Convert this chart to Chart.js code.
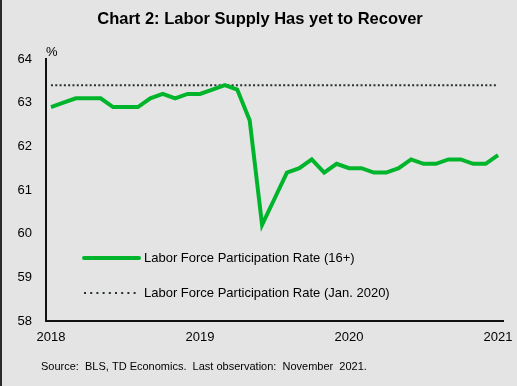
<!DOCTYPE html>
<html>
<head>
    <title>Chart 2: Labor Supply Has yet to Recover</title>
    <script src="https://cdn.jsdelivr.net/npm/chart.js@4.4.0/dist/chart.umd.min.js"></script>
    <style>
        html, body {
            margin: 0;
            padding: 0;
            background: #e4e4e4;
        }
        .frame {
            position: relative;
            width: 517px;
            height: 386px;
            box-sizing: border-box;
            border-left: 2px solid #2b2b2b;
            background: #e4e4e4;
        }
        canvas {
            position: absolute;
            left: -2px;
            top: 0;
        }
    </style>
</head>
<body>
    <div class="frame">
        <canvas id="lfpr" width="517" height="386"></canvas>
    </div>

    <script>
        // Monthly, Nov 2018 - Nov 2021
        const months = [
            'Nov 2018', 'Dec 2018',
            'Jan 2019', 'Feb 2019', 'Mar 2019', 'Apr 2019', 'May 2019', 'Jun 2019',
            'Jul 2019', 'Aug 2019', 'Sep 2019', 'Oct 2019', 'Nov 2019', 'Dec 2019',
            'Jan 2020', 'Feb 2020', 'Mar 2020', 'Apr 2020', 'May 2020', 'Jun 2020',
            'Jul 2020', 'Aug 2020', 'Sep 2020', 'Oct 2020', 'Nov 2020', 'Dec 2020',
            'Jan 2021', 'Feb 2021', 'Mar 2021', 'Apr 2021', 'May 2021', 'Jun 2021',
            'Jul 2021', 'Aug 2021', 'Sep 2021', 'Oct 2021', 'Nov 2021'
        ];
        const participation = [
            62.9, 63.0,
            63.1, 63.1, 63.1, 62.9, 62.9, 62.9, 63.1, 63.2, 63.1, 63.2, 63.2, 63.3,
            63.4, 63.3, 62.6, 60.2, 60.8, 61.4, 61.5, 61.7, 61.4, 61.6, 61.5, 61.5,
            61.4, 61.4, 61.5, 61.7, 61.6, 61.6, 61.7, 61.7, 61.6, 61.6, 61.8
        ];
        const jan2020Rate = 63.4;
        const yearTicks = [0, 12, 24, 36];
        const yearLabels = ['2018', '2019', '2020', '2021'];
        const seriesNames = [
            'Labor Force Participation Rate (16+)',
            'Labor Force Participation Rate (Jan. 2020)'
        ];

        const green = '#00b52c';
        const dark = '#26332a';
        const font = '"Liberation Sans", Arial, sans-serif';

        // legend + titles drawn on the canvas
        const decorations = {
            id: 'decorations',
            afterDraw(chart) {
                const ctx = chart.ctx;
                const area = chart.chartArea;
                ctx.save();
                ctx.fillStyle = '#000';
                ctx.textBaseline = 'middle';

                ctx.font = 'bold 16.5px ' + font;
                ctx.textAlign = 'center';
                ctx.fillText('Chart 2: Labor Supply Has yet to Recover', 260, 19);

                ctx.font = '13px ' + font;
                ctx.textAlign = 'left';
                ctx.fillText('%', area.left, area.top - 7);

                // legend
                const lx = area.left + 38;
                const y1 = 258, y2 = 293;
                ctx.strokeStyle = green;
                ctx.lineWidth = 4;
                ctx.lineCap = 'round';
                ctx.beginPath();
                ctx.moveTo(lx, y1);
                ctx.lineTo(lx + 55, y1);
                ctx.stroke();
                ctx.fillStyle = dark;
                for (let i = 0; i < 9; i++) {
                    ctx.fillRect(lx + i * 6.2, y2 - 1, 2, 2);
                }
                ctx.fillStyle = '#000';
                ctx.fillText(seriesNames[0], lx + 60, y1);
                ctx.fillText(seriesNames[1], lx + 60, y2);

                ctx.font = '11px ' + font;
                ctx.fillText('Source:  BLS, TD Economics.  Last observation:  November  2021.', 41, 367);
                ctx.restore();
            }
        };

        new Chart(document.getElementById('lfpr'), {
            type: 'line',
            data: {
                labels: months,
                datasets: [
                    {
                        label: seriesNames[0],
                        data: participation.map((v, i) => ({ x: i, y: v })),
                        borderColor: green,
                        borderWidth: 4,
                        pointRadius: 0,
                        tension: 0
                    },
                    {
                        label: seriesNames[1],
                        data: months.map((m, i) => ({ x: i, y: jan2020Rate })),
                        borderColor: dark,
                        borderWidth: 2,
                        borderDash: [2, 2.3],
                        pointRadius: 0
                    }
                ]
            },
            options: {
                responsive: false,
                animation: false,
                layout: {
                    padding: { left: 0, right: 0, top: 59, bottom: 0 }
                },
                scales: {
                    x: {
                        type: 'linear',
                        min: -0.4,
                        max: 36.4,
                        afterBuildTicks: (axis) => {
                            axis.ticks = yearTicks.map(v => ({ value: v }));
                        },
                        afterFit: (axis) => {
                            axis.height = 65;
                            axis.paddingLeft = 0;
                            axis.paddingRight = 14;
                        },
                        grid: { display: false, drawTicks: false },
                        border: { display: true, color: '#111', width: 2 },
                        ticks: {
                            autoSkip: false,
                            maxRotation: 0,
                            padding: 9,
                            color: '#000',
                            font: { family: font, size: 13 },
                            callback: (v) => yearLabels[yearTicks.indexOf(v)]
                        }
                    },
                    y: {
                        min: 58,
                        max: 64,
                        afterFit: (axis) => { axis.width = 46; },
                        grid: { display: false, drawTicks: false },
                        border: { display: true, color: '#111', width: 2 },
                        ticks: {
                            stepSize: 1,
                            padding: 14,
                            color: '#000',
                            font: { family: font, size: 13 }
                        }
                    }
                },
                plugins: {
                    legend: { display: false },
                    title: { display: false },
                    tooltip: { enabled: true }
                }
            },
            plugins: [decorations]
        });
    </script>
</body>
</html>
